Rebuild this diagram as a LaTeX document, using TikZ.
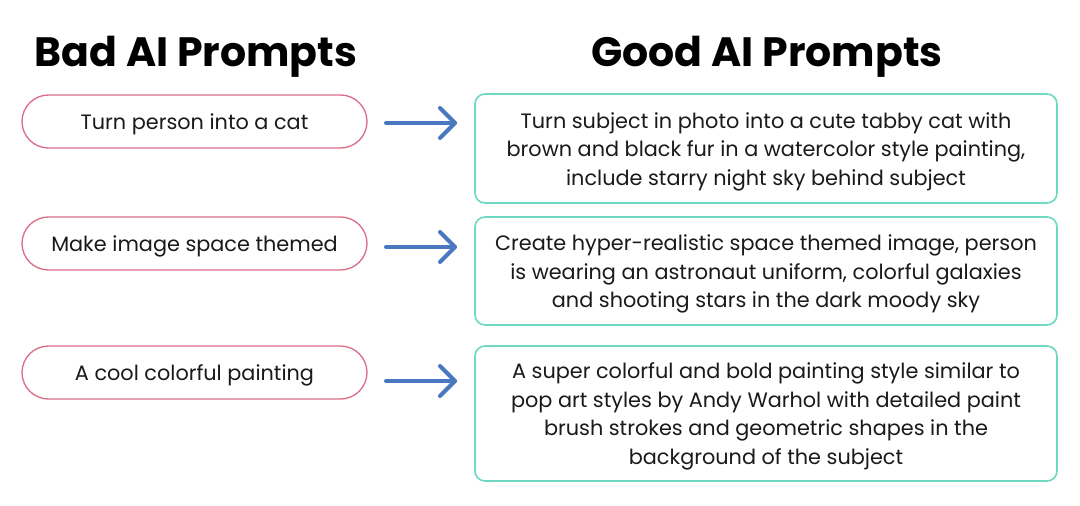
\documentclass[tikz,border=0pt]{standalone}
\usepackage{fontspec}
\setmainfont{Poppins}
\definecolor{pinkb}{HTML}{DB6C88}
\definecolor{tealb}{HTML}{6FD8C2}
\definecolor{arrowb}{HTML}{4A78C0}
\definecolor{txt}{HTML}{1A1A1A}
\tikzset{
  title/.style={font=\fontsize{41}{46}\selectfont\bfseries, text=black, anchor=center},
  bodytext/.style={font=\fontsize{20.8}{28.5}\selectfont, text=txt, align=center, inner sep=0pt, yshift=-3pt},
  badbox/.style={draw=pinkb, line width=1.3pt, rounded corners=26.5pt, minimum width=345pt, minimum height=53pt, inner sep=0pt},
  goodbox/.style={draw=tealb, line width=1.6pt, rounded corners=10pt, minimum width=582pt, inner sep=0pt},
  conn/.style={draw=arrowb, line width=4pt, line cap=round, line join=round},
}
\begin{document}
\begin{tikzpicture}[x=1pt,y=-1pt]
\useasboundingbox[fill=white] (0,0) rectangle (1080,506);
\node[title] (tbad) at (196,57) {Bad AI Prompts};
\node[title] (tgood) at (767,57) {Good AI Prompts};

\node[badbox, label={[bodytext]center:Turn person into a cat}] (b1) at (194.5,121.5) {};
\node[badbox, label={[bodytext]center:Make image space themed}] (b2) at (194.5,243.5) {};
\node[badbox, label={[bodytext]center:A cool colorful painting}] (b3) at (194.5,372.5) {};

\node[goodbox, minimum height=109pt, label={[bodytext]center:Turn subject in photo into a cute tabby cat with\\brown and black fur in a watercolor style painting,\\include starry night sky behind subject}] (g1) at (766,148.5) {};
\node[goodbox, minimum height=108pt, label={[bodytext]center:Create hyper-realistic space themed image, person\\is wearing an astronaut uniform, colorful galaxies\\and shooting stars in the dark moody sky}] (g2) at (766,271) {};
\node[goodbox, minimum height=135pt, label={[bodytext]center:A super colorful and bold painting style similar to\\pop art styles by Andy Warhol with detailed paint\\brush strokes and geometric shapes in the\\background of the subject}] (g3) at (766,413.5) {};

\foreach \i/\y in {1/123,2/247,3/381}{
  \coordinate (s\i) at (386,\y);
  \coordinate (e\i) at (455,\y);
  \coordinate (u\i) at (440,\y-15);
  \coordinate (d\i) at (440,\y+15);
  \draw[conn] (s\i) -- (e\i);
  \draw[conn] (u\i) -- (e\i) -- (d\i);
}
\end{tikzpicture}
\end{document}
